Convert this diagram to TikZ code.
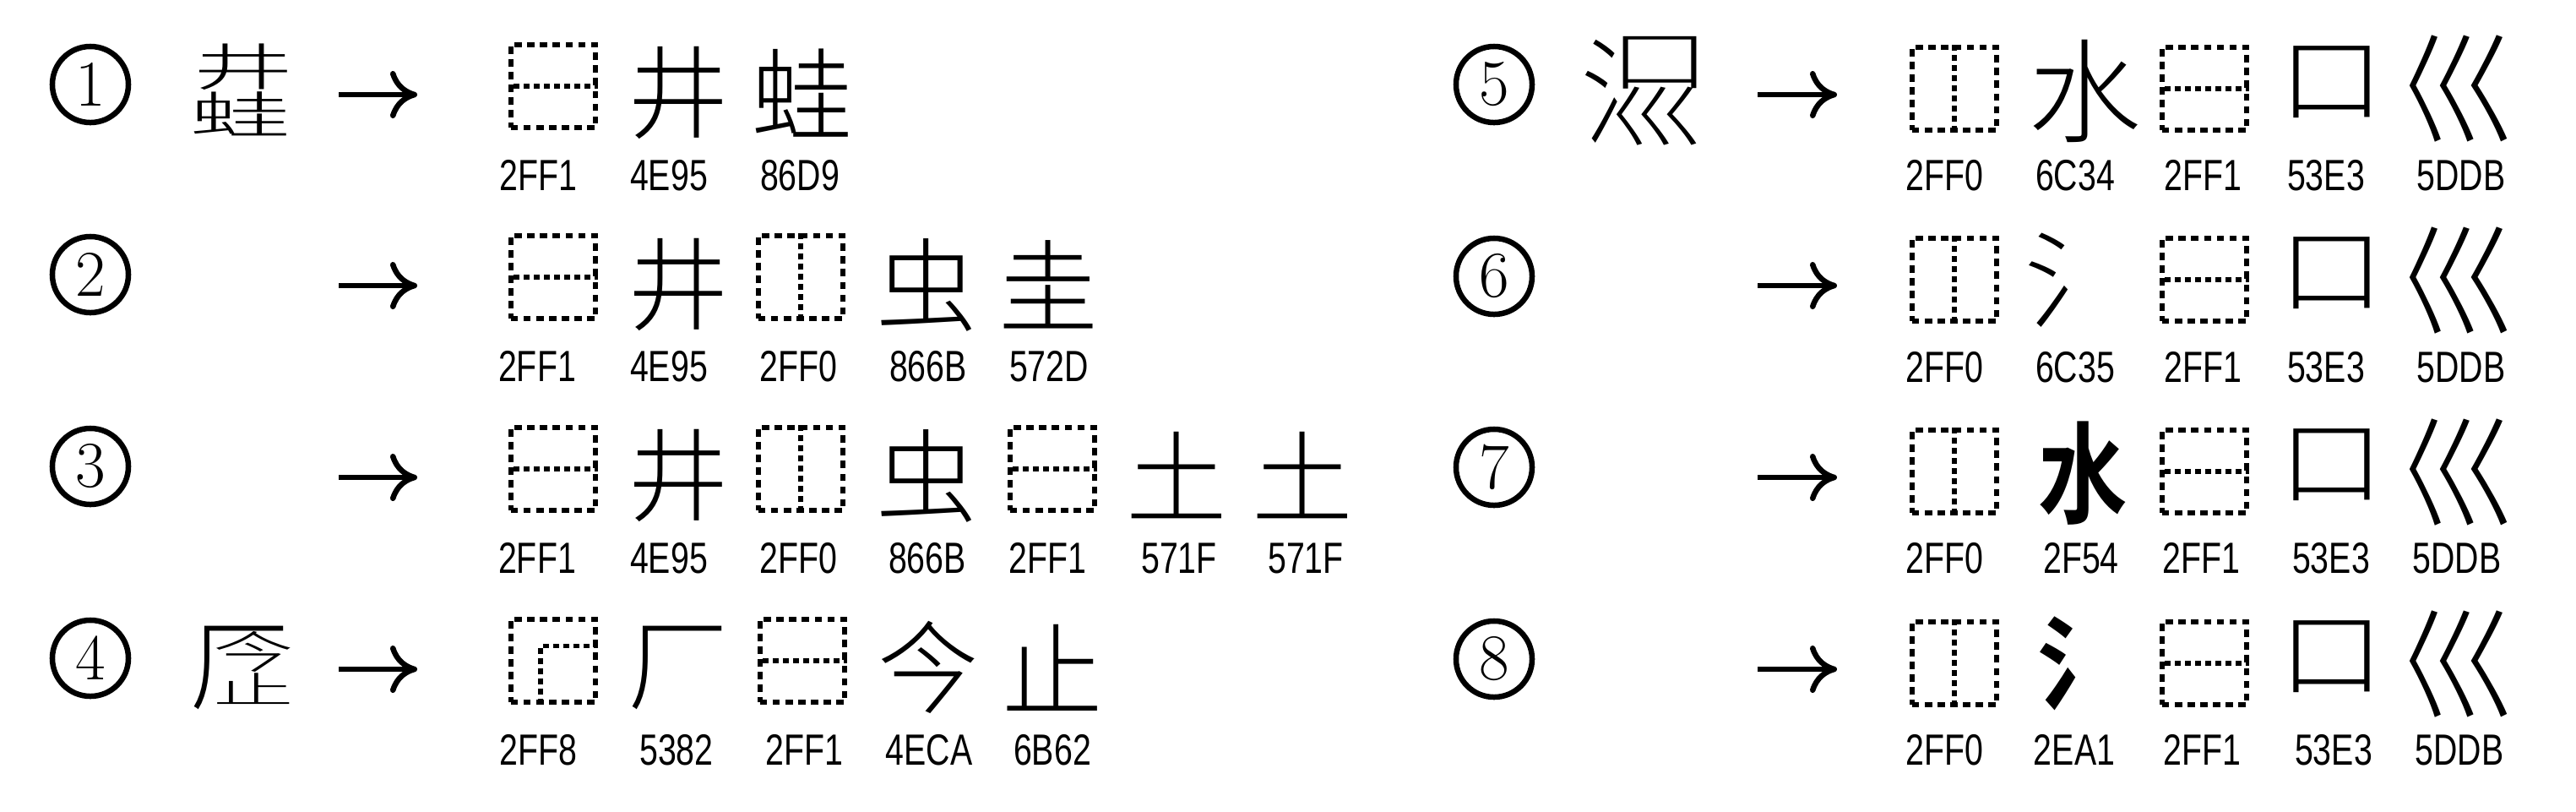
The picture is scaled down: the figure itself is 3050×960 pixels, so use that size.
\documentclass[tikz,border=0pt]{standalone}
\usepackage{fontspec}
\newfontfamily\cjk{Noto Sans CJK SC}[UprightFont=* Light, BoldFont=* Bold]
\newfontfamily\lab[FakeStretch=0.76]{Liberation Sans}
\usetikzlibrary{arrows.meta}
\newcommand{\ovl}[5]{\rlap{\hspace{#1}\raisebox{#2}[0pt][0pt]{\scalebox{#3}[#4]{#5}}}}
\begin{document}
\begin{tikzpicture}[x=0.01cm,y=-0.01cm,
  glyph/.style={inner sep=0, font=\cjk\fontsize{34pt}{34pt}\selectfont},
  bglyph/.style={inner sep=0, font=\cjk\bfseries\fontsize{34pt}{34pt}\selectfont},
  code/.style={inner sep=0, anchor=base, font=\lab\fontsize{14.7pt}{15pt}\selectfont},
  num/.style={draw, circle, line width=0.065cm, minimum size=0.9cm, inner sep=0, font=\fontsize{22pt}{22pt}\selectfont},
  idc/.style={draw, dash pattern=on 0.085cm off 0.065cm, line width=0.055cm, minimum width=1.0cm, minimum height=0.98cm, inner sep=0},
  idcline/.style={dash pattern=on 0.07cm off 0.05cm, line width=0.055cm},
  arr/.style={line width=0.065cm, -{Computer Modern Rightarrow[length=0.32cm, width=0.56cm]}}
]
\useasboundingbox (0,0) rectangle (3050,960);

% ---------------- Row 1 ----------------
\node[num] (n1) at (107,100) {1};
\node[glyph, anchor=base] (s1) at (284,158)
  {\ovl{0.04cm}{0.56cm}{1.0}{0.5}{井}\scalebox{1.0}[0.5]{蛙}};
\coordinate (a1s) at (401,112); \coordinate (a1e) at (494,112);
\draw[arr] (a1s) -- (a1e);
\node[idc] (b11) at (655,102) {};
\draw[idcline] ([xshift=0.06cm]b11.west) -- (b11.east);
\node[glyph] (g12) at (803,110) {井};
\node[glyph] (g13) at (949,110) {蛙};
\node[code] (l11) at (637,225) {2FF1};
\node[code] (l12) at (792,225) {4E95};
\node[code] (l13) at (947,225) {86D9};

% ---------------- Row 2 ----------------
\node[num] (n2) at (107,325) {2};
\coordinate (a2s) at (401,338); \coordinate (a2e) at (494,338);
\draw[arr] (a2s) -- (a2e);
\node[idc] (b21) at (655,328) {};
\draw[idcline] ([xshift=0.06cm]b21.west) -- (b21.east);
\node[glyph] (g22) at (803,337) {井};
\node[idc] (b23) at (948,328) {};
\draw[idcline] (b23.north) -- (b23.south);
\node[glyph] (g24) at (1097,337) {虫};
\node[glyph] (g25) at (1241,337) {圭};
\node[code] (l21) at (636,451) {2FF1};
\node[code] (l22) at (792,451) {4E95};
\node[code] (l23) at (945,451) {2FF0};
\node[code] (l24) at (1099,451) {866B};
\node[code] (l25) at (1242,451) {572D};

% ---------------- Row 3 ----------------
\node[num] (n3) at (107,552) {3};
\coordinate (a3s) at (401,565); \coordinate (a3e) at (494,565);
\draw[arr] (a3s) -- (a3e);
\node[idc] (b31) at (655,555) {};
\draw[idcline] ([xshift=0.06cm]b31.west) -- (b31.east);
\node[glyph] (g32) at (803,563) {井};
\node[idc] (b33) at (948,555) {};
\draw[idcline] (b33.north) -- (b33.south);
\node[glyph] (g34) at (1097,563) {虫};
\node[idc] (b35) at (1246,555) {};
\draw[idcline] ([xshift=0.06cm]b35.west) -- (b35.east);
\node[glyph] (g36) at (1393,563) {土};
\node[glyph] (g37) at (1542,563) {土};
\node[code] (l31) at (636,678) {2FF1};
\node[code] (l32) at (792,678) {4E95};
\node[code] (l33) at (945,678) {2FF0};
\node[code] (l34) at (1098,678) {866B};
\node[code] (l35) at (1240,678) {2FF1};
\node[code] (l36) at (1396,678) {571F};
\node[code] (l37) at (1546,678) {571F};

% ---------------- Row 4 ----------------
\node[num] (n4) at (107,779) {4};
\node[glyph, anchor=base] (s4) at (284,831)
  {\ovl{0.28cm}{0.394cm}{0.8}{0.44}{今}\ovl{0.28cm}{-0.01cm}{0.8}{0.36}{止}厂};
\coordinate (a4s) at (401,792); \coordinate (a4e) at (494,792);
\draw[arr] (a4s) -- (a4e);
\node[idc] (b41) at (655,782) {};
\draw[idcline] ([xshift=0.38cm]b41.south west) |- ([yshift=-0.34cm]b41.north east);
\node[glyph] (g42) at (803,790) {厂};
\node[idc] (b43) at (950,782) {};
\draw[idcline] ([xshift=0.06cm]b43.west) -- (b43.east);
\node[glyph] (g44) at (1099,790) {今};
\node[glyph] (g45) at (1246,790) {止};
\node[code] (l41) at (637,905) {2FF8};
\node[code] (l42) at (801,905) {5382};
\node[code] (l43) at (952,905) {2FF1};
\node[code] (l44) at (1100,905) {4ECA};
\node[code] (l45) at (1246,905) {6B62};

% ---------------- Row 5 ----------------
\node[num] (n5) at (1769,100) {5};
\node[glyph, anchor=base] (s5) at (1943,165)
  {\makebox[1.26cm][l]{\ovl{-0.078cm}{0.068cm}{0.9}{1.15}{氵}\ovl{0.2525cm}{0.636cm}{1.0}{0.67}{口}\ovl{0.252cm}{-0.038cm}{0.95}{0.7}{巛}}};
\coordinate (a5s) at (2081,112); \coordinate (a5e) at (2175,112);
\draw[arr] (a5s) -- (a5e);
\node[idc] (b51) at (2314,105) {};
\draw[idcline] (b51.north) -- (b51.south);
\node[glyph] (g52) at (2468,108) {\scalebox{1.12}{水}};
\node[idc] (b53) at (2610,105) {};
\draw[idcline] ([xshift=0.06cm]b53.west) -- (b53.east);
\node[glyph] (g54) at (2761,97) {\scalebox{1.04}[0.92]{口}};
\node[glyph] (g55) at (2912,105) {\scalebox{1.16}[1.28]{巛}};
\node[code] (l51) at (2302,225) {2FF0};
\node[code] (l52) at (2457,225) {6C34};
\node[code] (l53) at (2608,225) {2FF1};
\node[code] (l54) at (2754,225) {53E3};
\node[code] (l55) at (2914,225) {5DDB};

% ---------------- Row 6 ----------------
\node[num] (n6) at (1769,327) {6};
\coordinate (a6s) at (2081,338); \coordinate (a6e) at (2175,338);
\draw[arr] (a6s) -- (a6e);
\node[idc] (b61) at (2314,331) {};
\draw[idcline] (b61.north) -- (b61.south);
\node[glyph] (g62) at (2462,332) {\scalebox{1.1}[1.05]{氵}};
\node[idc] (b63) at (2610,331) {};
\draw[idcline] ([xshift=0.06cm]b63.west) -- (b63.east);
\node[glyph] (g64) at (2761,323) {\scalebox{1.04}[0.92]{口}};
\node[glyph] (g65) at (2912,332) {\scalebox{1.16}[1.28]{巛}};
\node[code] (l61) at (2302,452) {2FF0};
\node[code] (l62) at (2457,452) {6C35};
\node[code] (l63) at (2608,452) {2FF1};
\node[code] (l64) at (2754,452) {53E3};
\node[code] (l65) at (2914,452) {5DDB};

% ---------------- Row 7 ----------------
\node[num] (n7) at (1769,553) {7};
\coordinate (a7s) at (2081,565); \coordinate (a7e) at (2175,565);
\draw[arr] (a7s) -- (a7e);
\node[idc] (b71) at (2314,558) {};
\draw[idcline] (b71.north) -- (b71.south);
\node[bglyph] (g72) at (2466,560) {\scalebox{0.88}[1.09]{⽔}};
\node[idc] (b73) at (2610,558) {};
\draw[idcline] ([xshift=0.06cm]b73.west) -- (b73.east);
\node[glyph] (g74) at (2761,550) {\scalebox{1.04}[0.92]{口}};
\node[glyph] (g75) at (2912,559) {\scalebox{1.16}[1.28]{巛}};
\node[code] (l71) at (2302,678) {2FF0};
\node[code] (l72) at (2464,678) {2F54};
\node[code] (l73) at (2606,678) {2FF1};
\node[code] (l74) at (2760,678) {53E3};
\node[code] (l75) at (2909,678) {5DDB};

% ---------------- Row 8 ----------------
\node[num] (n8) at (1769,780) {8};
\coordinate (a8s) at (2081,792); \coordinate (a8e) at (2175,792);
\draw[arr] (a8s) -- (a8e);
\node[idc] (b81) at (2314,785) {};
\draw[idcline] (b81.north) -- (b81.south);
\node[bglyph] (g82) at (2466,785) {\scalebox{0.9}[1.0]{⺡}};
\node[idc] (b83) at (2610,785) {};
\draw[idcline] ([xshift=0.06cm]b83.west) -- (b83.east);
\node[glyph] (g84) at (2761,777) {\scalebox{1.04}[0.92]{口}};
\node[glyph] (g85) at (2912,786) {\scalebox{1.16}[1.28]{巛}};
\node[code] (l81) at (2302,905) {2FF0};
\node[code] (l82) at (2456,905) {2EA1};
\node[code] (l83) at (2607,905) {2FF1};
\node[code] (l84) at (2763,905) {53E3};
\node[code] (l85) at (2912,905) {5DDB};
\end{tikzpicture}
\end{document}
